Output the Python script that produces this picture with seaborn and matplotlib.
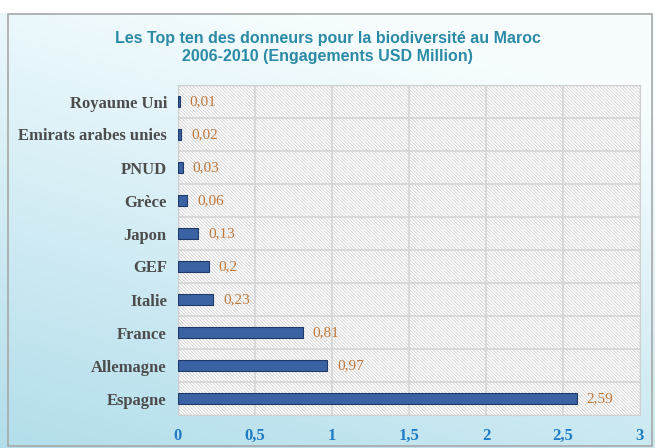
import numpy as np
import pandas as pd
import seaborn as sns
import matplotlib
matplotlib.use("Agg")
from matplotlib import pyplot as plt
from matplotlib.patches import Rectangle

# données (engagements USD Million)
donneurs = ['Royaume Uni', 'Emirats arabes unies', 'PNUD', 'Grèce', 'Japon',
            'GEF', 'Italie', 'France', 'Allemagne', 'Espagne']
montants = [0.01, 0.02, 0.03, 0.06, 0.13, 0.2, 0.23, 0.81, 0.97, 2.59]
etiquettes = ['0,01', '0,02', '0,03', '0,06', '0,13', '0,2', '0,23', '0,81', '0,97', '2,59']
xticks = [0, 0.5, 1, 1.5, 2, 2.5, 3]
xticklabels = ['0', '0,5', '1', '1,5', '2', '2,5', '3']

df = pd.DataFrame({'donneur': donneurs, 'montant': montants})

sns.set_style('white')
plt.rcParams['font.family'] = ['Liberation Serif', 'DejaVu Serif']
plt.rcParams['hatch.linewidth'] = 0.5
plt.rcParams['hatch.color'] = '#c8c8c8'

fig = plt.figure(figsize=(6.55, 4.48), dpi=100)

# fond dégradé (blanc en haut, bleu clair en bas / à gauche)
bg = fig.add_axes([0, 0, 1, 1], zorder=-10)
yy, xx = np.mgrid[0:1:200j, 0:1:200j]
t = np.clip(0.85 * yy + 0.35 * (1 - xx) - 0.2, 0, 1)
c_top = np.array([0.97, 0.995, 1.0])
c_bot = np.array([0.70, 0.87, 0.92])
img = c_top[None, None, :] * (1 - t[..., None]) + c_bot[None, None, :] * t[..., None]
bg.imshow(img, extent=[0, 1, 0, 1], origin='upper', aspect='auto')
bg.add_patch(Rectangle((0, 0.97), 1, 0.03, facecolor='white', edgecolor='none'))
bg.add_patch(Rectangle((0.012, 0.005), 0.983, 0.963, facecolor='none',
                       edgecolor='#a8a8a8', linewidth=1.2))
bg.set_xlim(0, 1)
bg.set_ylim(0, 1)
bg.axis('off')

ax = fig.add_axes([178 / 655, 1 - 415 / 448, (640 - 178) / 655, (415 - 85) / 448])
ax.add_patch(Rectangle((0, 0), 1, 1, transform=ax.transAxes, facecolor='white',
                       edgecolor='#c8c8c8', hatch='\\' * 10, zorder=0))

sns.barplot(data=df, x='montant', y='donneur', order=donneurs, orient='h',
            color='#3b62a3', edgecolor='#1e3a6b', linewidth=0.8, width=0.32,
            saturation=1, ax=ax, zorder=3)

for i, (v, lab) in enumerate(zip(montants, etiquettes)):
    ax.text(v + 0.065, i, lab, va='center', ha='left', fontsize=11,
            color='#c0773a', zorder=4)

ax.set_xlim(0, 3)
ax.set_ylim(len(donneurs) - 0.5, -0.5)
ax.set_xticks(xticks)
ax.set_xticklabels(xticklabels, fontsize=12, fontweight='bold', color='#1f7cc4')
ax.set_yticks(range(len(donneurs)))
ax.set_yticklabels(donneurs, fontsize=12, fontweight='bold', color='#4c4c4c')
ax.tick_params(axis='y', length=0, pad=8)
ax.tick_params(axis='x', length=0, pad=9)
ax.set_xlabel('')
ax.set_ylabel('')
for x in xticks[1:-1]:
    ax.axvline(x, color='#d4d4d4', linewidth=1.2, zorder=1)
for y in np.arange(0.5, len(donneurs) - 1, 1):
    ax.axhline(y, color='#d4d4d4', linewidth=1.2, zorder=1)
for s in ax.spines.values():
    s.set_color('#d0d0d0')

fig.text(0.5, 0.894, 'Les Top ten des donneurs pour la biodiversité au Maroc\n'
         '2006-2010 (Engagements USD Million)', ha='center', va='center',
         fontsize=11.5, fontweight='bold', color='#2b8aa5',
         family=['Liberation Sans', 'DejaVu Sans'], linespacing=1.2)

fig.savefig('out.png', dpi=100)
